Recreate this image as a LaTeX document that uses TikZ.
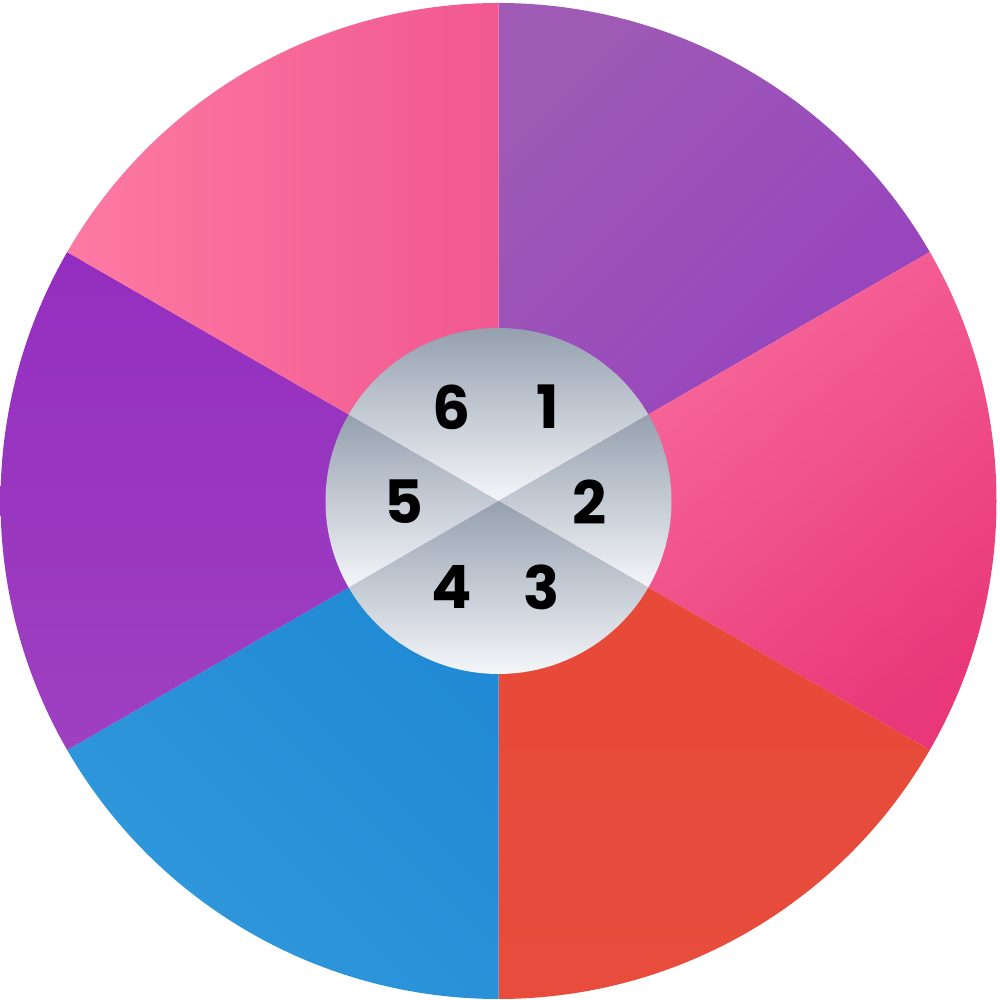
\documentclass[tikz,border=0pt]{standalone}
\usepackage{fontspec}
\newfontfamily\pop{Poppins}
\begin{document}
\begin{tikzpicture}[x=0.01cm,y=0.01cm,
  lab/.style={font=\pop\bfseries\fontsize{17}{20}\selectfont, text=black, inner sep=0pt},
  inner/.style={top color=grayTop, bottom color=grayBot, draw=none}]
\definecolor{grayTop}{HTML}{95A0AF}
\definecolor{grayBot}{HTML}{F4F6F9}
\useasboundingbox (0,0) rectangle (1000,1000);
\coordinate (c) at (498.5,499);
% outer sectors
\path[top color={rgb,255:red,158;green,90;blue,181}, bottom color={rgb,255:red,150;green,64;blue,192}, shading angle=45]
  (c) -- ++(90:498) arc[start angle=90, end angle=30, radius=498] -- cycle;
\path[top color={rgb,255:red,249;green,112;blue,160}, bottom color={rgb,255:red,233;green,56;blue,121}, shading angle=40]
  (c) -- ++(30:498) arc[start angle=30, end angle=-30, radius=498] -- cycle;
\path[top color={rgb,255:red,232;green,73;blue,56}, bottom color={rgb,255:red,231;green,76;blue,60}]
  (c) -- ++(-30:498) arc[start angle=-30, end angle=-90, radius=498] -- cycle;
\path[top color={rgb,255:red,31;green,136;blue,212}, bottom color={rgb,255:red,49;green,152;blue,219}, shading angle=-45]
  (c) -- ++(-90:498) arc[start angle=-90, end angle=-150, radius=498] -- cycle;
\path[top color={rgb,255:red,148;green,46;blue,192}, bottom color={rgb,255:red,158;green,64;blue,192}]
  (c) -- ++(-150:498) arc[start angle=-150, end angle=-210, radius=498] -- cycle;
\path[left color={rgb,255:red,253;green,122;blue,163}, right color={rgb,255:red,241;green,88;blue,144}]
  (c) -- ++(150:498) arc[start angle=150, end angle=90, radius=498] -- cycle;
% inner sectors
\path[inner] (c) -- ++(90:173) arc[start angle=90, end angle=30, radius=173] -- cycle;
\path[inner] (c) -- ++(30:173) arc[start angle=30, end angle=-30, radius=173] -- cycle;
\path[inner] (c) -- ++(-30:173) arc[start angle=-30, end angle=-90, radius=173] -- cycle;
\path[inner] (c) -- ++(-90:173) arc[start angle=-90, end angle=-150, radius=173] -- cycle;
\path[inner] (c) -- ++(-150:173) arc[start angle=-150, end angle=-210, radius=173] -- cycle;
\path[inner] (c) -- ++(150:173) arc[start angle=150, end angle=90, radius=173] -- cycle;
% labels
\node[lab] (n1) at (548,593) {1};
\node[lab] (n2) at (590,498) {2};
\node[lab] (n3) at (542,413) {3};
\node[lab] (n4) at (452,413) {4};
\node[lab] (n5) at (404,498) {5};
\node[lab] (n6) at (452,593) {6};
\end{tikzpicture}
\end{document}
